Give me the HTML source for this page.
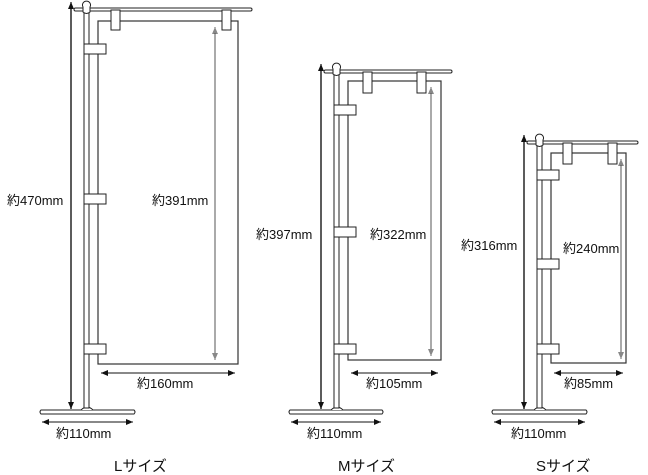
<!DOCTYPE html>
<html><head><meta charset="utf-8"><style>
html,body{margin:0;padding:0;background:#fff;}
svg{display:block;}
text{font-family:"Liberation Sans","Noto Sans CJK JP",sans-serif;font-size:13px;fill:#111;}
.t{font-size:15px;}
</style></head><body>
<svg id="s" width="648" height="475" viewBox="0 0 648 475" xmlns="http://www.w3.org/2000/svg">
<defs>
<marker id="a" markerWidth="8" markerHeight="8" refX="7" refY="4" orient="auto" markerUnits="userSpaceOnUse"><path d="M0,1 L7,4 L0,7 Z" fill="#111"/></marker>
<marker id="g" markerWidth="8" markerHeight="8" refX="7" refY="4" orient="auto" markerUnits="userSpaceOnUse"><path d="M0,1 L7,4 L0,7 Z" fill="#888"/></marker>
</defs>
<g id="shapes"></g>
<text x="7" y="205">約470mm</text>
<text x="152" y="205">約391mm</text>
<text x="137" y="388">約160mm</text>
<text x="56" y="438">約110mm</text>
<text class="t" x="114" y="471">Lサイズ</text>
<text x="256" y="239">約397mm</text>
<text x="370" y="239">約322mm</text>
<text x="366" y="388">約105mm</text>
<text x="307" y="438">約110mm</text>
<text class="t" x="338" y="471">Mサイズ</text>
<text x="461" y="250">約316mm</text>
<text x="563" y="253">約240mm</text>
<text x="564" y="388">約85mm</text>
<text x="511" y="438">約110mm</text>
<text class="t" x="536" y="471">Sサイズ</text>
</svg>
<script>
var g=document.getElementById('shapes'),h='';
function L(x1,y1,x2,y2,c,w,m){h+='<line x1="'+x1+'" y1="'+y1+'" x2="'+x2+'" y2="'+y2+'" stroke="'+(c||'#222')+'" stroke-width="'+(w||1)+'"'+(m||'')+'/>';}
function R(x,y,w,hh){h+='<rect x="'+x+'" y="'+y+'" width="'+w+'" height="'+hh+'" fill="#fff" stroke="#222" stroke-width="1"/>';}
function stand(o){
 var p=o.px;
 L(o.hx,409,o.hx,o.ty-6,'#111',1.2,' marker-end="url(#a)"');
 L(o.hx,o.ty,o.hx,409,'#111',1.2,' marker-end="url(#a)"');
 h+='<path d="M'+(o.bx1+2)+','+410+' L'+(o.bx2-2)+',410 Q'+o.bx2+',412 '+(o.bx2-2)+',414 L'+(o.bx1+2)+',414 Q'+o.bx1+',412 '+(o.bx1+2)+',410 Z" fill="#fff" stroke="#222"/>';
 h+='<path d="M'+(p-3)+',410 Q'+(p+3)+',404 '+(p+9)+',410" fill="#fff" stroke="#222"/>';
 h+='<rect x="'+p+'" y="'+(o.ty+4)+'" width="5" height="'+(404-o.ty)+'" fill="#fff" stroke="#222"/>';
 h+='<rect x="'+o.bl+'" y="'+o.bt+'" width="'+(o.br-o.bl)+'" height="'+(o.bb-o.bt)+'" fill="#fff" stroke="#333" stroke-width="1.2"/>';
 h+='<rect x="'+(p-10)+'" y="'+o.ty+'" width="'+(o.tx2-p+10)+'" height="3" rx="1.5" fill="#fff" stroke="#222"/>';
 h+='<path d="M'+(p-1)+','+(o.ty+4)+' L'+(p-1)+','+(o.ty-1)+' A4,4 0 1 1 '+(p+6)+','+(o.ty-1)+' L'+(p+6)+','+(o.ty+4)+' Q'+(p+2.5)+','+(o.ty+7)+' '+(p-1)+','+(o.ty+4)+' Z" fill="#fff" stroke="#222"/>';
 o.clips.forEach(function(c){R(c,o.ty+2,9,o.ch);});
 o.br2.forEach(function(y){R(p,y,22,10);});
 L(o.ix,o.bb-4,o.ix,o.bt+6,'#555',1,' marker-end="url(#g)"');
 L(o.ix,o.bt+12,o.ix,o.bb-4,'#555',1,' marker-end="url(#g)"');
 L(o.bl+8,373,o.br-3,373,'#111',1,' marker-end="url(#a)"');
 L(o.br-8,373,o.bl+3,373,'#111',1,' marker-end="url(#a)"');
 L(o.bx1+8,422,o.bx2-3,422,'#111',1,' marker-end="url(#a)"');
 L(o.bx2-8,422,o.bx1+3,422,'#111',1,' marker-end="url(#a)"');
}
stand({px:84,hx:71,ty:8,tx2:252,bl:98,bt:21,br:238,bb:364,clips:[111,222],ch:20,br2:[44,194,344],ix:215,bx1:39,bx2:136});
stand({px:334,hx:321,ty:70,tx2:452,bl:348,bt:81,br:441,bb:360,clips:[363,417],ch:21,br2:[105,227,344],ix:431,bx1:288,bx2:384});
stand({px:537,hx:524,ty:141,tx2:638,bl:551,bt:153,br:626,bb:363,clips:[563,608],ch:21,br2:[170,259,344],ix:621,bx1:491,bx2:588});
g.innerHTML=h;
</script>
</body></html>
